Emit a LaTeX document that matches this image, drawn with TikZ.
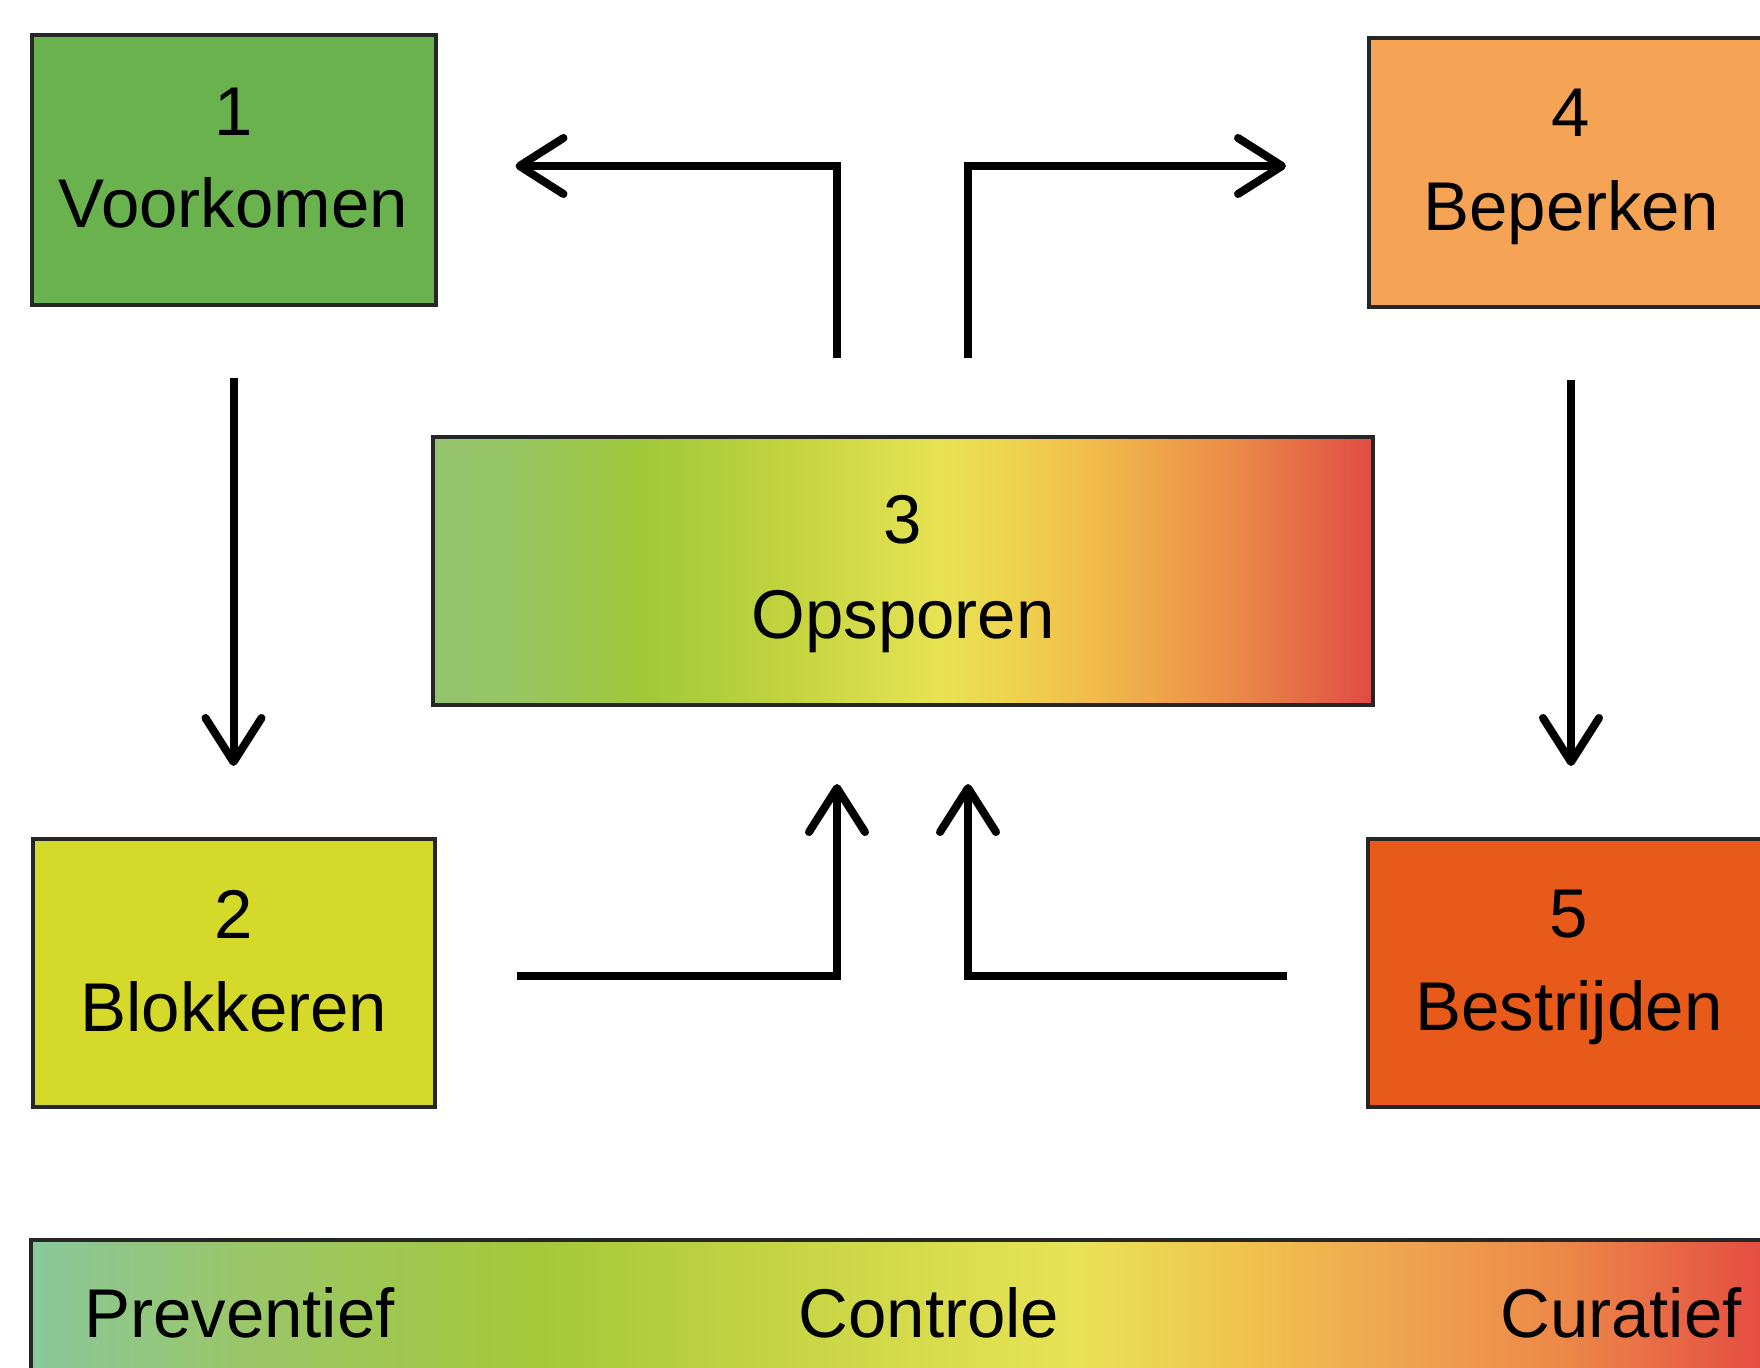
\documentclass[tikz,border=0pt]{standalone}
\usepackage{fontspec}
\setmainfont{Liberation Sans}
\usetikzlibrary{arrows.meta}
\definecolor{cgreen}{HTML}{6AB24E}
\definecolor{cyellow}{HTML}{D5D92A}
\definecolor{corange}{HTML}{F5A455}
\definecolor{cred}{HTML}{E85A1A}
\definecolor{edge}{HTML}{262626}
\definecolor{ga}{HTML}{95C46F}
\definecolor{gb}{HTML}{96C564}
\definecolor{gc}{HTML}{A0C83A}
\definecolor{gd}{HTML}{C3D43F}
\definecolor{ge}{HTML}{E8E353}
\definecolor{gf}{HTML}{EED24E}
\definecolor{gg}{HTML}{F2BC4C}
\definecolor{gh}{HTML}{EA8C48}
\definecolor{gi}{HTML}{E04B45}
\definecolor{ba}{HTML}{8AC89C}
\definecolor{bb}{HTML}{9AC66A}
\definecolor{bc}{HTML}{A4C83A}
\definecolor{bd}{HTML}{C8D544}
\definecolor{be}{HTML}{E8E356}
\definecolor{bf}{HTML}{F0C24E}
\definecolor{bg}{HTML}{EFA650}
\definecolor{bh}{HTML}{EC8848}
\definecolor{bi}{HTML}{E44A42}
\pgfdeclarehorizontalshading{opsgrad}{100bp}{color(0bp)=(ga); color(25bp)=(ga); color(29bp)=(gb); color(36bp)=(gc); color(44bp)=(gd); color(52bp)=(ge); color(56bp)=(gf); color(60bp)=(gg); color(67.5bp)=(gh); color(75bp)=(gi); color(100bp)=(gi)}
\pgfdeclarehorizontalshading{bargrad}{100bp}{color(0bp)=(ba); color(25bp)=(ba); color(31bp)=(bb); color(39.5bp)=(bc); color(47bp)=(bd); color(55bp)=(be); color(60bp)=(bf); color(64bp)=(bg); color(69bp)=(bh); color(75bp)=(bi); color(100bp)=(bi)}
\tikzset{
  box/.style={draw=edge, line width=4pt, minimum width=404pt, minimum height=269pt, inner sep=0pt},
  lbl/.style={anchor=base, inner sep=0pt, text=black, font=\fontsize{69pt}{80pt}\selectfont},
  arr/.style={line width=8pt, -{Straight Barb[length=44pt,width=56pt,round]}}
}
\begin{document}
\begin{tikzpicture}[x=1pt,y=-1pt]
\useasboundingbox (0,0) rectangle (1760,1367);
\clip (0,0) rectangle (1760,1367);
\fill[white] (0,0) rectangle (1760,1367);
% boxes
\node[box, fill=cgreen] (b1) at (233.5,170) {};
\node[box, fill=cyellow, minimum width=402pt, minimum height=268pt] (b2) at (234,973) {};
\node[box, shading=opsgrad, minimum width=940pt, minimum height=268pt] (b3) at (903,571) {};
\node[box, fill=corange] (b4) at (1571,172.5) {};
\node[box, fill=cred, minimum width=402pt, minimum height=268pt] (b5) at (1569,973) {};
% labels
\node[lbl] (t1a) at ([yshift=34pt]b1.center) {1};
\node[lbl] (t1b) at ([yshift=-57pt]b1.center) {Voorkomen};
\node[lbl] (t2a) at ([yshift=35pt]b2.center) {2};
\node[lbl] (t2b) at ([yshift=-58pt]b2.center) {Blokkeren};
\node[lbl] (t3a) at ([yshift=28pt]b3.center) {3};
\node[lbl] (t3b) at ([yshift=-67pt]b3.center) {Opsporen};
\node[lbl] (t4a) at ([yshift=35.5pt]b4.center) {4};
\node[lbl] (t4b) at ([yshift=-57.5pt]b4.center) {Beperken};
\node[lbl] (t5a) at ([yshift=36pt]b5.center) {5};
\node[lbl] (t5b) at ([yshift=-57pt]b5.center) {Bestrijden};
% arrows
\draw[arr] ([yshift=-71pt]b1.south) -- ([yshift=71pt]b1.south |- b2.north);
\draw[arr] ([yshift=-71pt]b4.south) -- ([yshift=71pt]b4.south |- b5.north);
\draw[arr] ([xshift=-66pt,yshift=77pt]b3.north) |- ([xshift=78pt,yshift=4pt]b1.east);
\draw[arr] ([xshift=65pt,yshift=77pt]b3.north) |- ([xshift=-81pt,yshift=6.5pt]b4.west);
\draw[arr] ([xshift=80pt,yshift=-3pt]b2.east) -| ([xshift=-66pt,yshift=-77pt]b3.south);
\draw[arr] ([xshift=-79pt,yshift=-3pt]b5.west) -| ([xshift=65pt,yshift=-77pt]b3.south);
% scale bar
\node[draw=edge, line width=4pt, shading=bargrad, minimum width=1741pt, minimum height=200pt, inner sep=0pt] (bar) at (901.5,1340) {};
\node[lbl, anchor=base west] (p1) at (84,1337) {Preventief};
\node[lbl] (p2) at (929,1337) {Controle};
\node[lbl, anchor=base east] (p3) at (1742,1337) {Curatief};
\end{tikzpicture}
\end{document}
